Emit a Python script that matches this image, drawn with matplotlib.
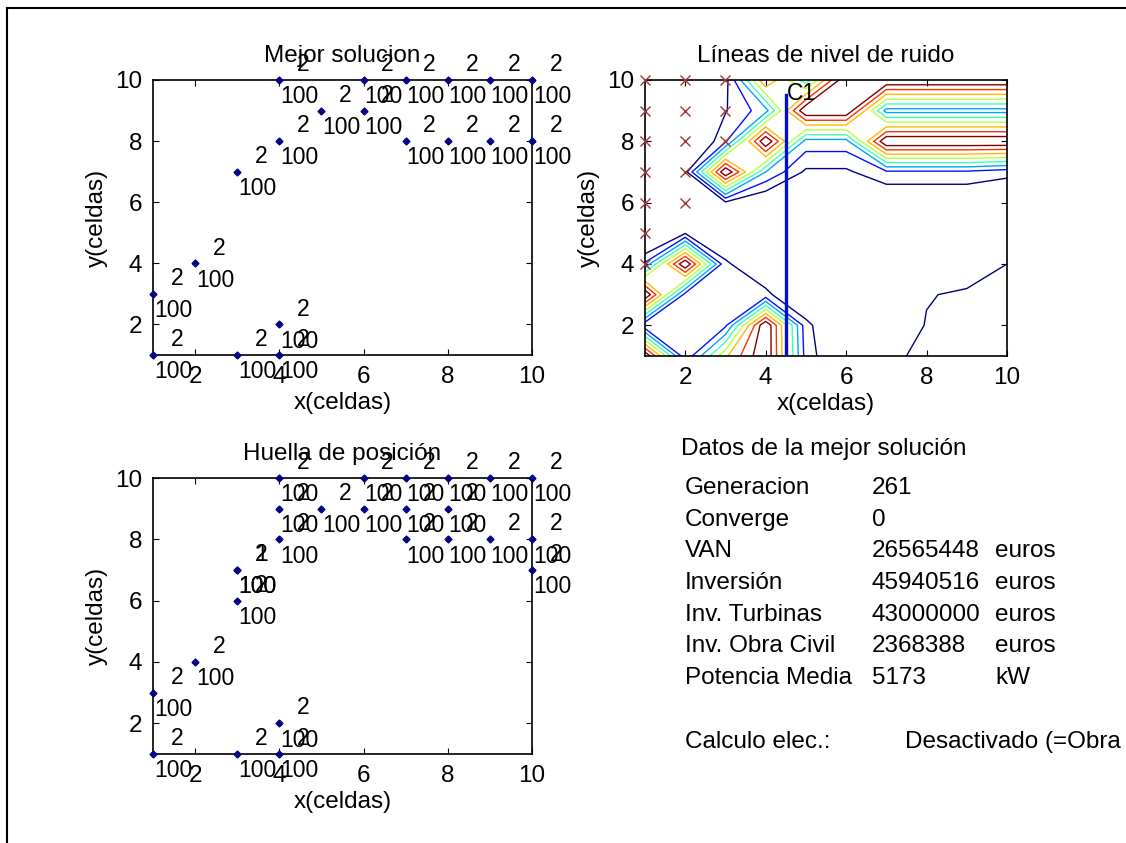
import numpy as np
import matplotlib.pyplot as plt
from matplotlib.lines import Line2D

plt.rcParams['font.family'] = ['Liberation Sans', 'DejaVu Sans']
fs = 17.5
fs_lab = 16.5

# mejor solucion: posiciones de turbinas (celda x, celda y), tipo y altura
sol_x = [4, 6, 7, 8, 9, 10, 5, 6, 4, 7, 8, 9, 10, 3, 2, 1, 4, 1, 3, 4]
sol_y = [10, 10, 10, 10, 10, 10, 9, 9, 8, 8, 8, 8, 8, 7, 4, 3, 2, 1, 1, 1]
sol_tipo = [2] * 20
sol_altura = [100] * 20

# huella de posicion: todas las posiciones ocupadas
hue_x = [4, 6, 7, 8, 9, 10, 4, 5, 6, 7, 8, 4, 7, 8, 9, 10, 3, 3, 10, 3, 2, 1, 4, 1, 3, 4]
hue_y = [10, 10, 10, 10, 10, 10, 9, 9, 9, 9, 9, 8, 8, 8, 8, 8, 7, 7, 7, 6, 4, 3, 2, 1, 1, 1]
hue_tipo = [2, 2, 2, 2, 2, 2, 2, 2, 2, 2, 2, 2, 2, 2, 2, 2, 2, 1, 2, 2, 2, 2, 2, 2, 2, 2]
hue_altura = [100] * 26

# nivel de ruido por celda (dB), filas y = 1..10, columnas x = 1..10
ruido = np.array([
    [60, 40.5, 52, 60, 41.5, 36, 39, 41, 41.5, 42],
    [40.5, 41, 42, 60, 41, 35, 37, 40.2, 40.8, 41.5],
    [60, 41.5, 41, 40.8, 36, 35, 35, 39.8, 40.5, 40.8],
    [43, 60, 40.5, 37, 34, 34, 34, 34, 38, 40],
    [34, 39.9, 37, 35, 34, 34, 34, 34, 34, 34],
    [34, 35, 39.5, 37, 36, 36, 37, 37, 37, 36],
    [34, 39, 60, 45, 39.5, 39.5, 42, 42, 42, 41],
    [34, 35, 42, 60, 44, 44, 60, 60, 60, 60],
    [34, 35, 39.8, 44, 60, 60, 44, 44, 44, 44],
    [34, 35, 39, 55, 46, 60, 60, 60, 60, 60],
])
niveles = [40, 42.5, 45, 47.5, 50, 52.5, 55, 57.5]

# receptores marcados con x
rec_x = [1, 2, 3, 1, 2, 3, 1, 2, 3, 1, 2, 1, 2, 1, 1]
rec_y = [10, 10, 10, 9, 9, 9, 8, 8, 8, 7, 7, 6, 6, 5, 4]

# linea C1
c1_x = [4.5, 4.5]
c1_y = [1, 9.5]

datos_nombre = ['Generacion', 'Converge', 'VAN', 'Inversión', 'Inv. Turbinas',
                'Inv. Obra Civil', 'Potencia Media']
datos_valor = ['261', '0', '26565448', '45940516', '43000000', '2368388', '5173']
datos_unidad = ['', '', 'euros', 'euros', 'euros', 'euros', 'kW']

W, H = 1126, 843


def caja(l, t, r, b):
    return [l / W, 1 - b / H, (r - l) / W, (b - t) / H]


def estilo(ax):
    ax.set_xlim(1, 10)
    ax.set_ylim(1, 10)
    ax.set_xticks([2, 4, 6, 8, 10])
    ax.set_yticks([2, 4, 6, 8, 10])
    ax.tick_params(direction='in', top=True, right=True, length=4,
                   labelsize=fs, pad=8)
    for s in ax.spines.values():
        s.set_linewidth(1.2)
    ax.set_xlabel('x(celdas)', fontsize=fs, labelpad=3)
    ax.set_ylabel('y(celdas)', fontsize=fs, labelpad=5)


def turbinas(ax, xs, ys, tipos, alturas, titulo):
    ax.plot(xs, ys, 'D', color='#000080', ms=3.5, clip_on=False, zorder=5)
    for x, y, t, a in zip(xs, ys, tipos, alturas):
        ax.text(x + 0.42, y + 0.5, str(t), fontsize=fs_lab, va='center', ha='left')
        ax.text(x + 0.02, y - 0.55, str(a), fontsize=fs_lab, va='center', ha='left')
    ax.set_title(titulo, fontsize=fs, pad=13)
    estilo(ax)


fig = plt.figure(figsize=(W / 100, H / 100), dpi=100)

ax1 = fig.add_axes(caja(153, 80, 532, 355))
turbinas(ax1, sol_x, sol_y, sol_tipo, sol_altura, 'Mejor solucion')

ax3 = fig.add_axes(caja(153, 478, 532, 754))
turbinas(ax3, hue_x, hue_y, hue_tipo, hue_altura, 'Huella de posición')

ax2 = fig.add_axes(caja(645, 80, 1007, 356))
gx = np.arange(1, 11)
ax2.contour(gx, gx, ruido, levels=niveles, cmap='jet', linewidths=1.0)
ax2.plot(rec_x, rec_y, 'x', color='#a03535', ms=7, mew=1, clip_on=False, zorder=4)
ax2.plot(c1_x, c1_y, color='#0010d0', lw=2.4, zorder=5)
ax2.text(c1_x[1] + 0.02, c1_y[1] + 0.05, 'C1', fontsize=fs_lab, va='center', ha='left')
ax2.set_title('Líneas de nivel de ruido', fontsize=fs, pad=13)
estilo(ax2)

# panel de datos
fig.text(681 / W, 1 - 449 / H, 'Datos de la mejor solución', fontsize=fs, va='center')
for i, (n, v, u) in enumerate(zip(datos_nombre, datos_valor, datos_unidad)):
    yy = 1 - (488 + 31.7 * i) / H
    fig.text(685 / W, yy, n, fontsize=fs, va='center')
    fig.text(872 / W, yy, v, fontsize=fs, va='center')
    fig.text(995 / W, yy, u, fontsize=fs, va='center')
fig.text(685 / W, 1 - 742 / H, 'Calculo elec.:', fontsize=fs, va='center')
fig.text(905 / W, 1 - 742 / H, 'Desactivado (=Obra', fontsize=fs, va='center')

# marco de la ventana
fig.add_artist(Line2D([7 / W, 7 / W], [0, 1 - 8 / H], color='black', lw=1.5))
fig.add_artist(Line2D([7 / W, 1], [1 - 8 / H, 1 - 8 / H], color='black', lw=1.5))

fig.savefig('out.png', dpi=100)
